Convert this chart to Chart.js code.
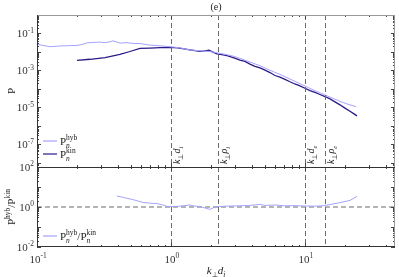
<!DOCTYPE html>
<html><head><meta charset="utf-8">
<script src="https://cdn.jsdelivr.net/npm/chart.js@4/dist/chart.umd.min.js"></script>
<style>html,body{margin:0;padding:0;background:#fff;}canvas{display:block}</style>
</head><body>
<canvas id="c" width="399" height="277"></canvas>
<script>
// ---- data ----
const kHyb = [0.1,0.1128,0.125,0.136,0.148,0.176,0.199,0.217,0.236,0.262,0.295,0.322,0.351,0.369,0.389,0.416,0.470,0.520,0.587,0.697,0.828,0.983,1.167,1.316,1.459,1.644,1.954,2.203,2.529,2.951,3.273,3.887,4.616,5.483,6.507,7.727,9.178,10.90,12.94,14.10,15.37,18.25,20.95,24.04];
const pHyb = [2.57e-2,2.19e-2,1.91e-2,2.00e-2,2.09e-2,2.19e-2,2.24e-2,2.51e-2,3.09e-2,3.24e-2,3.39e-2,3.16e-2,3.55e-2,3.98e-2,3.55e-2,3.02e-2,3.16e-2,2.88e-2,2.82e-2,2.34e-2,2.14e-2,1.91e-2,1.66e-2,1.35e-2,1.23e-2,1.15e-2,1.05e-2,8.91e-3,7.41e-3,5.75e-3,4.47e-3,2.82e-3,1.78e-3,1.00e-3,6.03e-4,3.39e-4,1.91e-4,1.05e-4,6.03e-5,4.68e-5,3.55e-5,2.09e-5,1.45e-5,1.07e-5];
const kKin = [0.199,0.249,0.322,0.416,0.494,0.587,0.697,0.828,0.983,1.128,1.316,1.510,1.644,1.794,1.922,2.057,2.203,2.402,2.662,2.951,3.273,3.566,3.887,4.236,4.616,5.029,5.483,5.975,6.507,7.096,7.727,8.414,9.178,10.0,10.90,11.88,12.94,14.10,15.37,16.75,18.25,19.89,21.68,23.23,24.45];
const pKin = [3.47e-3,3.98e-3,4.90e-3,7.24e-3,1.05e-2,1.55e-2,1.62e-2,1.70e-2,1.74e-2,1.66e-2,1.38e-2,1.17e-2,1.07e-2,1.15e-2,1.23e-2,9.77e-3,7.76e-3,7.08e-3,6.03e-3,4.79e-3,3.55e-3,3.02e-3,2.19e-3,1.66e-3,1.35e-3,1.02e-3,7.59e-4,5.25e-4,4.27e-4,3.24e-4,2.40e-4,1.82e-4,1.45e-4,1.07e-4,7.94e-5,6.31e-5,4.90e-5,3.80e-5,2.82e-5,1.95e-5,1.35e-5,8.91e-6,6.03e-6,4.37e-6,3.39e-6];
const kRatio = [0.395,0.454,0.520,0.618,0.697,0.786,0.871,0.933,1.017,1.167,1.386,1.510,1.644,1.794,1.954,2.130,2.321,2.754,3.273,3.887,4.616,5.029,5.975,7.096,8.414,10.0,11.88,13.40,15.37,18.25,21.68,24.45];
const ratio  = [3.55,2.88,2.34,1.70,1.55,1.48,1.26,1.07,1.05,1.10,1.26,1.10,1.07,0.89,0.76,1.00,1.07,1.12,1.15,1.20,1.35,1.20,1.26,1.15,1.17,1.12,1.10,1.15,1.32,1.66,2.14,3.39];
const refK = [1, 2.24, 10, 14.1];
const refSub = [['d','i'],['\u03C1','i'],['d','e'],['\u03C1','e']];
const xTicks = [0.1, 1, 10];           const xTickExp = ['-1','0','1'];
const yTopTicks = [1e-1,1e-3,1e-5,1e-7]; const yTopExp = ['-1','-3','-5','-7'];
const yBotTicks = [1e2,1,1e-2];         const yBotExp = ['2','0','-2'];
const xRange = [0.1, 47];
const yTopRange = [5.75e-9, 1];
const yBotRange = [1e-2, 1e2];

const C_HYB = '#a3a3ff', C_KIN = '#2c1a86';
const FONT = '"Liberation Serif", "Times New Roman", serif';
const pts = (xs, ys) => xs.map((x, i) => ({x, y: ys[i]}));

function rich(ctx, segs, x, y, size, measureOnly) {
  let cx = x;
  for (const s of segs) {
    if (s.ss) { // stacked sub & sup
      const ssz = size * 0.68;
      ctx.font = `${ssz}px ${FONT}`;
      const w1 = ctx.measureText(s.sup).width;
      ctx.font = `italic ${ssz}px ${FONT}`;
      const w2 = ctx.measureText(s.sub).width;
      if (!measureOnly) {
        ctx.font = `${ssz}px ${FONT}`;
        ctx.fillText(s.sup, cx, y - size * 0.42);
        ctx.font = `italic ${ssz}px ${FONT}`;
        ctx.fillText(s.sub, cx, y + size * 0.3);
      }
      cx += Math.max(w1, w2);
      continue;
    }
    const sz = s.p ? size * 0.68 : size;
    ctx.font = `${s.i ? 'italic ' : ''}${sz}px ${FONT}`;
    const dy = s.p === 'sup' ? -size * 0.42 : s.p === 'sub' ? size * 0.28 : 0;
    if (!measureOnly) ctx.fillText(s.t, cx, y + dy);
    cx += ctx.measureText(s.t).width;
  }
  return cx - x;
}

function logTicks(scale, cb) {
  const lo = Math.floor(Math.log10(scale.min)), hi = Math.ceil(Math.log10(scale.max));
  for (let d = lo; d <= hi; d++) for (let m = 1; m <= 9; m++) {
    const v = m * Math.pow(10, d);
    if (v < scale.min * 0.9999 || v > scale.max * 1.0001) continue;
    cb(v, m === 1);
  }
}

const deco = {
  id: 'deco',
  afterDraw(chart) {
    const ctx = chart.ctx, x = chart.scales.x, yT = chart.scales.yTop, yB = chart.scales.yBot;
    const L = chart.chartArea.left, R = chart.chartArea.right;
    ctx.save();
    ctx.fillStyle = '#222';
    ctx.textBaseline = 'alphabetic';
    // vertical dashed reference lines
    ctx.strokeStyle = '#6a6a6a'; ctx.lineWidth = 1; ctx.setLineDash([5, 3]);
    for (const k of refK) {
      const px = Math.round(x.getPixelForValue(k)) + 0.5;
      ctx.beginPath(); ctx.moveTo(px, yT.top); ctx.lineTo(px, yB.bottom); ctx.stroke();
    }
    ctx.setLineDash([]);
    // ticks
    ctx.strokeStyle = '#444'; ctx.lineWidth = 1;
    const panels = [yT, yB];
    for (const ys of panels) {
      logTicks(ys, (v, major) => {
        const py = Math.round(ys.getPixelForValue(v)) + 0.5, len = major ? 4 : 2;
        ctx.beginPath(); ctx.moveTo(L, py); ctx.lineTo(L + len, py);
        ctx.moveTo(R, py); ctx.lineTo(R - len, py); ctx.stroke();
      });
      logTicks(x, (v, major) => {
        const px = Math.round(x.getPixelForValue(v)) + 0.5, len = major ? 4 : 2;
        ctx.beginPath(); ctx.moveTo(px, ys.top); ctx.lineTo(px, ys.top + len);
        ctx.moveTo(px, ys.bottom); ctx.lineTo(px, ys.bottom - len); ctx.stroke();
      });
    }
    // frames
    ctx.lineWidth = 1;
    ctx.strokeStyle = '#999';
    ctx.beginPath(); ctx.moveTo(L, yT.top + 0.5); ctx.lineTo(R, yT.top + 0.5);
    ctx.moveTo(R - 0.5, yT.top); ctx.lineTo(R - 0.5, yB.bottom); ctx.stroke();
    ctx.strokeStyle = '#333';
    ctx.beginPath();
    ctx.moveTo(L + 0.5, yT.top); ctx.lineTo(L + 0.5, yB.bottom);
    ctx.moveTo(L, Math.round(yT.bottom) + 0.5); ctx.lineTo(R, Math.round(yT.bottom) + 0.5);
    ctx.moveTo(L, Math.round(yB.bottom) - 0.5); ctx.lineTo(R, Math.round(yB.bottom) - 0.5);
    ctx.stroke();
    // tick labels
    const TS = 11;
    ctx.fillStyle = '#333';
    function power(exp, px, py, align) {
      const segs = [{t: '10'}, {t: exp.replace('-', '\u2212').replace('\u2212','-'), p: 'sup'}];
      const w = rich(ctx, segs, 0, 0, TS, true);
      const sx = align === 'right' ? px - w : px - w / 2;
      rich(ctx, segs, sx, py, TS);
    }
    xTicks.forEach((v, i) => power(xTickExp[i], x.getPixelForValue(v) + 1, 263, 'center'));
    yTopTicks.forEach((v, i) => power(yTopExp[i], L - 3, yT.getPixelForValue(v) + 4, 'right'));
    yBotTicks.forEach((v, i) => power(yBotExp[i], L - 3, yB.getPixelForValue(v) + 4, 'right'));
    // axis titles
    ctx.fillStyle = '#222';
    {
      const segs = [{t: 'k', i: 1}, {t: '\u22A5', p: 'sub'}, {t: 'd', i: 1}, {t: 'i', i: 1, p: 'sub'}];
      const w = rich(ctx, segs, 0, 0, 11, true);
      rich(ctx, segs, (L + R) / 2 - w / 2, 274, 11);
    }
    ctx.save(); ctx.translate(15, (yT.top + yT.bottom) / 2); ctx.rotate(-Math.PI / 2);
    { const segs = [{t: 'P'}]; const w = rich(ctx, segs, 0, 0, 11, true); rich(ctx, segs, -w / 2, 0, 11); }
    ctx.restore();
    ctx.save(); ctx.translate(15, (yB.top + yB.bottom) / 2); ctx.rotate(-Math.PI / 2);
    { const segs = [{t: 'P'}, {t: 'hyb', p: 'sup'}, {t: '/P'}, {t: 'kin', p: 'sup'}];
      const w = rich(ctx, segs, 0, 0, 11, true); rich(ctx, segs, -w / 2, 0, 11); }
    ctx.restore();
    // title
    ctx.font = `10px ${FONT}`; ctx.textAlign = 'center';
    ctx.fillText('(e)', (L + R) / 2, 10);
    ctx.textAlign = 'left';
    // reference line labels
    refK.forEach((k, i) => {
      const px = Math.round(x.getPixelForValue(k));
      ctx.save(); ctx.translate(px + 9, yT.bottom - 3); ctx.rotate(-Math.PI / 2);
      rich(ctx, [{t: 'k', i: 1}, {t: '\u22A5', p: 'sub'}, {t: refSub[i][0], i: 1}, {t: refSub[i][1], i: 1, p: 'sub'}], 0, 0, 10);
      ctx.restore();
    });
    // legends
    ctx.lineWidth = 1.2;
    const leg = (y, col, segs) => {
      ctx.strokeStyle = col; ctx.beginPath(); ctx.moveTo(L + 6, y); ctx.lineTo(L + 20, y); ctx.stroke();
      rich(ctx, segs, L + 23, y + 4, 11);
    };
    leg(141, C_HYB, [{t: 'P'}, {ss: 1, sub: 'n', sup: 'hyb'}]);
    leg(154, C_KIN, [{t: 'P'}, {ss: 1, sub: 'n', sup: 'kin'}]);
    leg(236, C_HYB, [{t: 'P'}, {ss: 1, sub: 'n', sup: 'hyb'}, {t: '/P'}, {ss: 1, sub: 'n', sup: 'kin'}]);
    ctx.restore();
  }
};

const hidden = {ticks: {display: false}, grid: {display: false}, border: {display: false}};
new Chart(document.getElementById('c'), {
  type: 'line',
  data: {datasets: [
    {data: pts(kHyb, pHyb), yAxisID: 'yTop', borderColor: C_HYB, borderWidth: 1, pointRadius: 0, tension: 0},
    {data: pts(kKin, pKin), yAxisID: 'yTop', borderColor: C_KIN, borderWidth: 1.3, pointRadius: 0, tension: 0},
    {data: pts(kRatio, ratio), yAxisID: 'yBot', borderColor: C_HYB, borderWidth: 1, pointRadius: 0, tension: 0},
    {data: pts(xRange, [1, 1]), yAxisID: 'yBot', borderColor: '#6a6a6a', borderWidth: 1, borderDash: [5, 3], pointRadius: 0}
  ]},
  options: {
    responsive: false, animation: false,
    plugins: {legend: {display: false}, tooltip: {enabled: false}, title: {display: false}},
    layout: {padding: {top: 15, right: 4, left: 0, bottom: 0}},
    scales: {
      x: {type: 'logarithmic', min: xRange[0], max: xRange[1], ...hidden, afterFit(s) { s.height = 30; }},
      yBot: {type: 'logarithmic', min: yBotRange[0], max: yBotRange[1], position: 'left', stack: 'v', stackWeight: 80, ...hidden, afterFit(s) { s.width = 37; }},
      yTop: {type: 'logarithmic', min: yTopRange[0], max: yTopRange[1], position: 'left', stack: 'v', stackWeight: 152, ...hidden, afterFit(s) { s.width = 37; }}
    }
  },
  plugins: [deco]
});
</script>
</body></html>
